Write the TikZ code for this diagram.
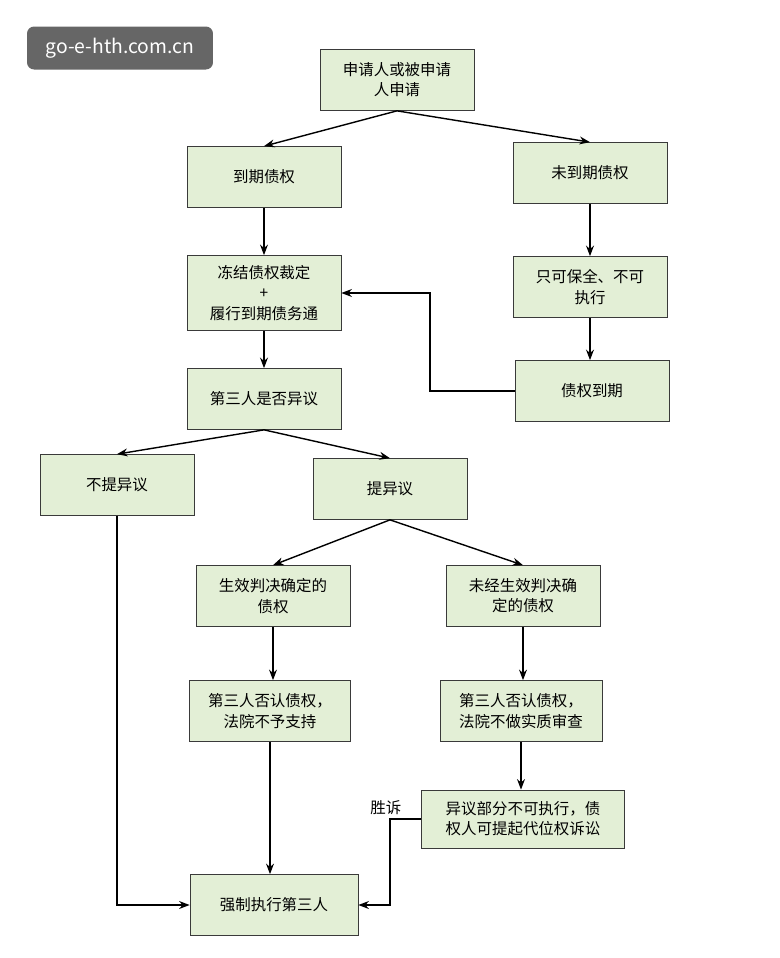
\documentclass[tikz,border=0pt]{standalone}
\usepackage{fontspec}
\setmainfont{Noto Sans CJK SC}
\usetikzlibrary{arrows.meta}
\definecolor{boxfill}{HTML}{E3EFD6}
\definecolor{boxline}{HTML}{3A3A3A}
\begin{document}
\begin{tikzpicture}[x=0.02cm,y=-0.02cm]
    % Define styles
    \tikzset{box/.style={rectangle, minimum width=3.08cm, minimum height=1.22cm, align=center, draw=boxline, fill=boxfill, font=\fontsize{8.8}{11.5}\selectfont},
             arrow/.style={thick, -{Stealth[length=6pt]}}}
    \useasboundingbox (0,0) rectangle (779,958);
    \fill[white] (0,0) rectangle (779,958);
    % Watermark
    \node (mark) [rounded corners=4pt, fill=gray!80!black, text=white, minimum width=3.72cm, minimum height=0.86cm, font=\fontsize{11}{13}\selectfont] at (120,48) {go-e-hth.com.cn};
    % Nodes
    \node (apply) [box] at (397,80) {申请人或被申请\\人申请};
    \node (due) [box] at (264,177) {到期债权};
    \node (undue) [box] at (590,173) {未到期债权};
    \node (freeze) [box, minimum height=1.5cm] at (264,293) {冻结债权裁定\\+\\履行到期债务通};
    \node (keep) [box] at (590,287) {只可保全、不可\\执行};
    \node (object) [box] at (264,399) {第三人是否异议};
    \node (expire) [box] at (592,391) {债权到期};
    \node (noobj) [box] at (117,485) {不提异议};
    \node (obj) [box] at (390,489) {提异议};
    \node (judged) [box] at (273,596) {生效判决确定的\\债权};
    \node (unjudged) [box] at (523,596) {未经生效判决确\\定的债权};
    \node (deny1) [box, minimum width=3.22cm] at (270,711) {第三人否认债权，\\法院不予支持};
    \node (deny2) [box, minimum width=3.24cm] at (521,711) {第三人否认债权，\\法院不做实质审查};
    \node (sue) [box, minimum width=4.06cm, minimum height=1.16cm] at (523,819) {异议部分不可执行，债\\权人可提起代位权诉讼};
    \node (force) [box, minimum width=3.36cm] at (274,905) {强制执行第三人};
    \coordinate (c1) at (430,391);
    \coordinate (c2) at (390,819);
    % Arrows
    \draw [arrow] (apply.south) -- (due.north);
    \draw [arrow] (apply.south) -- (undue.north);
    \draw [arrow] (due) -- (freeze);
    \draw [arrow] (undue) -- (keep);
    \draw [arrow] (freeze) -- (object);
    \draw [arrow] (keep) -- (keep |- expire.north);
    \draw [arrow] (expire.west) -- (c1) |- (freeze.east);
    \draw [arrow] (object.south) -- (noobj.north);
    \draw [arrow] (object.south) -- (obj.north);
    \draw [arrow] (obj.south) -- (judged.north);
    \draw [arrow] (obj.south) -- (unjudged.north);
    \draw [arrow] (judged) -- (judged |- deny1.north);
    \draw [arrow] (unjudged) -- (unjudged |- deny2.north);
    \draw [arrow] (deny2) -- (deny2 |- sue.north);
    \draw [arrow] (deny1) -- (deny1 |- force.north);
    \draw [arrow] (noobj.south) |- (force.west);
    \draw [arrow] (sue.west) -- node[above left, font=\fontsize{8.8}{11}\selectfont, inner sep=2pt] {胜诉} (c2) |- (force.east);
\end{tikzpicture}
\end{document}
